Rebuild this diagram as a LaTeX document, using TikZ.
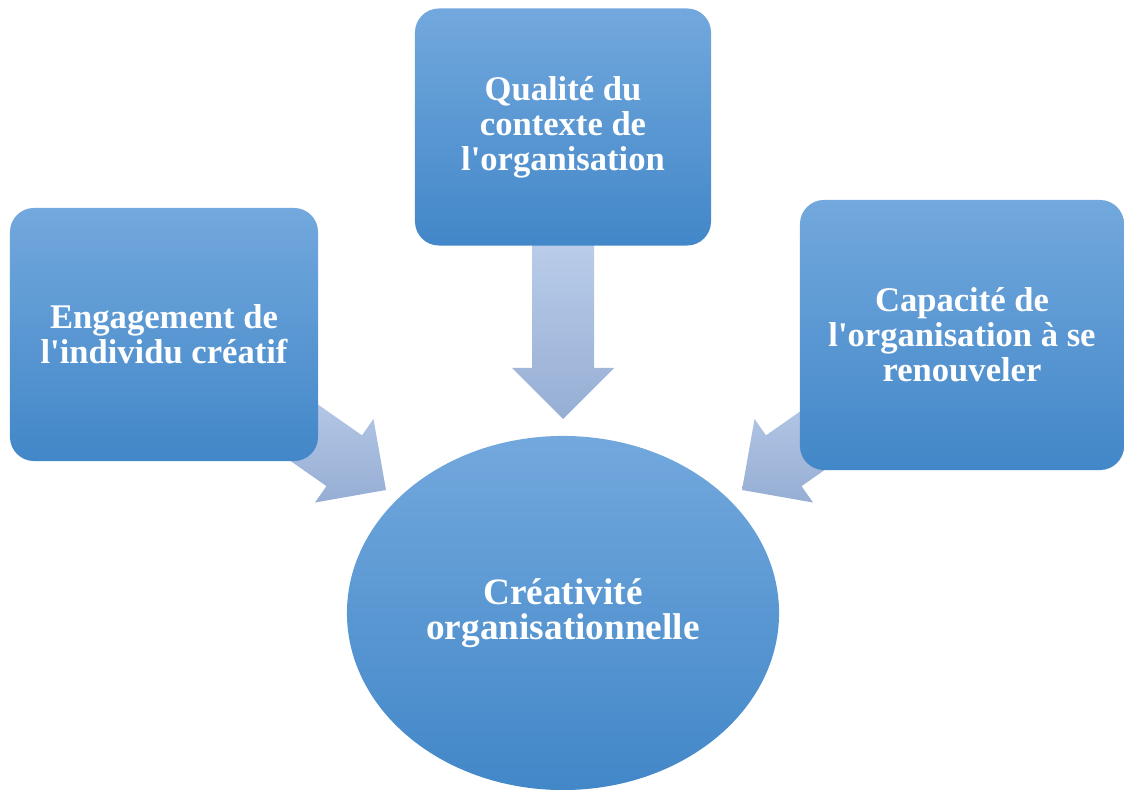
\documentclass[tikz,border=0pt]{standalone}
\usepackage{fontspec}
\setmainfont{Liberation Serif}
\usetikzlibrary{shapes.geometric, positioning}
\definecolor{boxtop}{RGB}{114,168,221}
\definecolor{boxbot}{RGB}{66,135,200}
\definecolor{flowtop}{RGB}{186,205,234}
\definecolor{flowbot}{RGB}{150,174,212}

\begin{document}
\begin{tikzpicture}[x=0.025cm, y=0.025cm]
    \tikzstyle{label text}=[text=white, font=\fontsize{24.6}{25}\selectfont\bfseries, align=center]
    \tikzstyle{box}=[rectangle, rounded corners=0.6cm, top color=boxtop, bottom color=boxbot, inner sep=0pt, label text]
    \tikzstyle{hub}=[ellipse, top color=boxtop, bottom color=boxbot, inner sep=0pt, minimum width=10.8cm, minimum height=8.85cm, label text, font=\fontsize{26.5}{25}\selectfont\bfseries]
    \tikzstyle{flow}=[top color=flowtop, bottom color=flowbot]

    \useasboundingbox (0,0) rectangle (1124,789);

    % arrow tips, just short of the central ellipse
    \coordinate (tipT) at (563,370);
    \coordinate (tipL) at (386,299);
    \coordinate (tipR) at (742,299);

    \foreach \tip/\ang/\len in {tipT/-90/180, tipL/-35/150, tipR/-145/150}{
        \path[flow, shift={(\tip)}, rotate=\ang] (0,0) -- (-51,51) -- (-51,31) -- (-\len,31) -- (-\len,-31) -- (-51,-31) -- (-51,-51) -- cycle;
        }

    \node[hub] (creat) at (563,176) {Créativité\\organisationnelle};

    \node[box, minimum width=7.4cm, minimum height=5.925cm] (ctx) at (563,662) {Qualité du\\contexte de\\l\textquotesingle organisation};
    \node[box, minimum width=7.7cm, minimum height=6.325cm] (eng) at (164,454.5) {Engagement de\\l\textquotesingle individu créatif};
    \node[box, minimum width=8.1cm, minimum height=6.75cm] (cap) at (962,454) {Capacité de\\l\textquotesingle organisation à se\\renouveler};

\end{tikzpicture}
\end{document}
